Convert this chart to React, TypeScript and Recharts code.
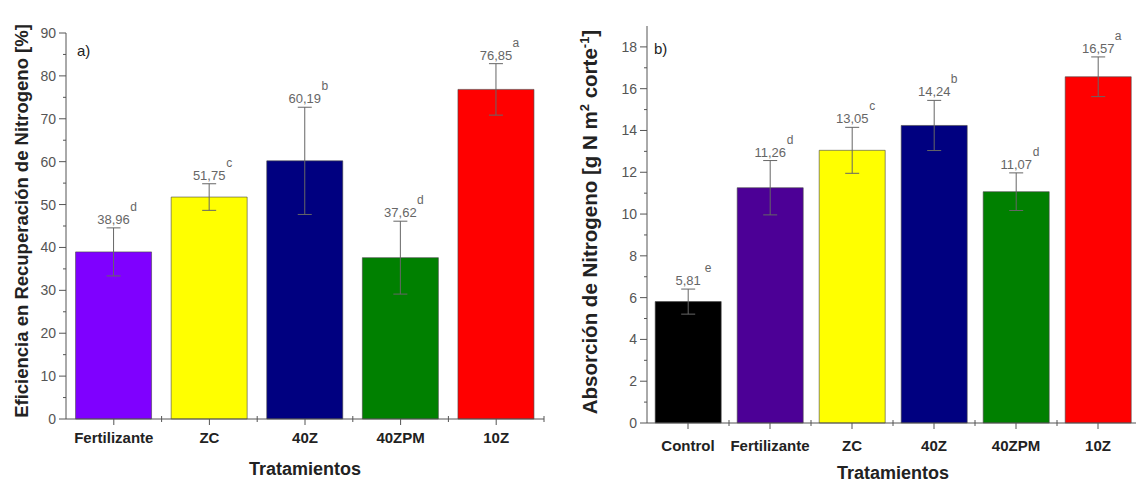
import React from 'react';
import { BarChart, Bar, XAxis, YAxis, Cell, ErrorBar, LabelList } from 'recharts';

const leftCategories = ['Fertilizante', 'ZC', '40Z', '40ZPM', '10Z'];
const leftValues = [38.96, 51.75, 60.19, 37.62, 76.85];
const leftErrors = [5.6, 3.1, 12.5, 8.5, 6.0];
const leftLetters = ['d', 'c', 'b', 'd', 'a'];
const leftColors = ['#7f00ff', '#ffff00', '#000080', '#008000', '#ff0000'];
const leftTicks = [0, 5, 10, 15, 20, 25, 30, 35, 40, 45, 50, 55, 60, 65, 70, 75, 80, 85, 90];

const rightCategories = ['Control', 'Fertilizante', 'ZC', '40Z', '40ZPM', '10Z'];
const rightValues = [5.81, 11.26, 13.05, 14.24, 11.07, 16.57];
const rightErrors = [0.6, 1.3, 1.1, 1.2, 0.9, 0.95];
const rightLetters = ['e', 'd', 'c', 'b', 'd', 'a'];
const rightColors = ['#000000', '#4c0096', '#ffff00', '#000080', '#008000', '#ff0000'];
const rightTicks = [0, 1, 2, 3, 4, 5, 6, 7, 8, 9, 10, 11, 12, 13, 14, 15, 16, 17, 18];

const FONT = '"Liberation Sans", Arial, sans-serif';
const AXIS = '#555';

const leftData = leftCategories.map((name, i) => ({ name, value: leftValues[i], err: leftErrors[i] }));
const rightData = rightCategories.map((name, i) => ({ name, value: rightValues[i], err: rightErrors[i] }));

const makeYTick = (major: number) => (props: any) => {
  const { x, y, payload } = props;
  const isMajor = payload.value % major === 0;
  return (
    <g>
      <line x1={x} x2={x - (isMajor ? 7 : 3)} y1={y} y2={y} stroke={AXIS} strokeWidth={1} />
      {isMajor && (
        <text x={x - 10} y={y} dy={5} textAnchor="end" fontSize={14} fill="#555" fontFamily={FONT}>
          {payload.value}
        </text>
      )}
    </g>
  );
};

const makeXTick = (band: number, labelDy: number) => (props: any) => {
  const { x, y, payload } = props;
  return (
    <g>
      <line x1={x} x2={x} y1={y} y2={y + 6} stroke={AXIS} strokeWidth={1} />
      <line x1={x + band / 2} x2={x + band / 2} y1={y - 3} y2={y + 3} stroke={AXIS} strokeWidth={1} />
      <text x={x} y={y + labelDy} textAnchor="middle" fontSize={15} fontWeight="bold" fill="#222" fontFamily={FONT}>
        {payload.value}
      </text>
    </g>
  );
};

const makeLabel = (errs: number[], letters: string[]) => (props: any) => {
  const { x, y, width, height, value, index } = props;
  const k = height / value;
  const top = y - errs[index] * k;
  const cx = x + width / 2;
  return (
    <g fontFamily={FONT}>
      <text x={cx} y={top - 4} textAnchor="middle" fontSize={13} fill="#666">
        {value.toFixed(2).replace('.', ',')}
      </text>
      <text x={cx + 20} y={top - 17} textAnchor="middle" fontSize={12} fill="#666">
        {letters[index]}
      </text>
    </g>
  );
};

function LeftChart() {
  return (
    <div style={{ position: 'absolute', left: 0, top: 0, width: 560, height: 485 }}>
      <BarChart width={560} height={485} data={leftData} margin={{ top: 33, right: 16, bottom: 0, left: 0 }} barCategoryGap="10%">
        <XAxis dataKey="name" height={66} axisLine={{ stroke: AXIS }} tickLine={false} tickSize={0} tickMargin={0}
          tick={makeXTick(95.6, 24)} interval={0} />
        <XAxis xAxisId="top" dataKey="name" orientation="top" height={0} tick={false} tickLine={false} axisLine={{ stroke: AXIS }} />
        <YAxis domain={[0, 90]} ticks={leftTicks} width={66} axisLine={{ stroke: AXIS }} tickLine={false} tickSize={0}
          tickMargin={0} tick={makeYTick(10)} interval={0} />
        <YAxis yAxisId="r" orientation="right" domain={[0, 90]} width={0} tick={false} tickLine={false} axisLine={{ stroke: AXIS }} />
        <Bar dataKey="value" isAnimationActive={false} stroke="#444" strokeWidth={0.6}>
          {leftData.map((d, i) => (
            <Cell key={d.name} fill={leftColors[i]} />
          ))}
          <ErrorBar dataKey="err" width={7} stroke="#666" strokeWidth={1} direction="y" />
          <LabelList dataKey="value" content={makeLabel(leftErrors, leftLetters)} />
        </Bar>
      </BarChart>
      <svg width={560} height={485} style={{ position: 'absolute', left: 0, top: 0, pointerEvents: 'none' }} fontFamily={FONT}>
        <text transform="translate(28,221) rotate(-90)" textAnchor="middle" fontSize={18.5} fontWeight="bold" fill="#222">
          Eficiencia en Recuperación de Nitrogeno [%]
        </text>
        <text x={305} y={475} textAnchor="middle" fontSize={18} fontWeight="bold" fill="#222">Tratamientos</text>
        <text x={77} y={56} fontSize={15} fill="#222">a)</text>
      </svg>
    </div>
  );
}

function RightChart() {
  return (
    <div style={{ position: 'absolute', left: 560, top: 0, width: 600, height: 485 }}>
      <BarChart width={600} height={485} data={rightData} margin={{ top: 26, right: 21, bottom: 0, left: 0 }} barCategoryGap="10%">
        <XAxis dataKey="name" height={62} axisLine={{ stroke: AXIS }} tickLine={false} tickSize={0} tickMargin={0}
          tick={makeXTick(82, 28)} interval={0} />
        <XAxis xAxisId="top" dataKey="name" orientation="top" height={0} tick={false} tickLine={false} axisLine={{ stroke: AXIS }} />
        <YAxis domain={[0, 19]} ticks={rightTicks} width={87} axisLine={{ stroke: AXIS }} tickLine={false} tickSize={0}
          tickMargin={0} tick={makeYTick(2)} interval={0} />
        <YAxis yAxisId="r" orientation="right" domain={[0, 19]} width={0} tick={false} tickLine={false} axisLine={{ stroke: AXIS }} />
        <Bar dataKey="value" isAnimationActive={false} stroke="#444" strokeWidth={0.6}>
          {rightData.map((d, i) => (
            <Cell key={d.name} fill={rightColors[i]} />
          ))}
          <ErrorBar dataKey="err" width={7} stroke="#666" strokeWidth={1} direction="y" />
          <LabelList dataKey="value" content={makeLabel(rightErrors, rightLetters)} />
        </Bar>
      </BarChart>
      <svg width={600} height={485} style={{ position: 'absolute', left: 0, top: 0, pointerEvents: 'none' }} fontFamily={FONT}>
        <text transform="translate(37,222) rotate(-90)" textAnchor="middle" fontSize={20.5} fontWeight="bold" fill="#222">
          Absorción de Nitrogeno [g N m<tspan dy={-8} fontSize={13}>2</tspan>
          <tspan dy={8}> corte</tspan><tspan dy={-8} fontSize={13}>-1</tspan><tspan dy={8}>]</tspan>
        </text>
        <text x={333} y={479} textAnchor="middle" fontSize={18} fontWeight="bold" fill="#222">Tratamientos</text>
        <text x={94} y={54} fontSize={15} fill="#222">b)</text>
      </svg>
    </div>
  );
}

export default function App() {
  return (
    <div style={{ position: 'absolute', left: 0, top: 0, width: 1136, height: 485, overflow: 'hidden', background: '#fff' }}>
      <LeftChart />
      <RightChart />
    </div>
  );
}
